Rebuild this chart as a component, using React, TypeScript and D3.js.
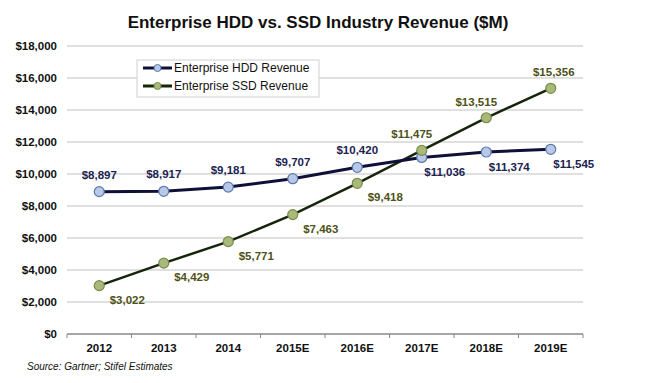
import React from "react";
import * as d3 from "d3";

const categories = ["2012", "2013", "2014", "2015E", "2016E", "2017E", "2018E", "2019E"];
const hddRevenue = [8897, 8917, 9181, 9707, 10420, 11036, 11374, 11545];
const ssdRevenue = [3022, 4429, 5771, 7463, 9418, 11475, 13515, 15356];
const hddLabelPos = ["above", "above", "above", "above", "above", "below", "below", "below"];
const ssdLabelPos = ["below", "below", "below", "below", "below", "above", "above", "above"];
const yTicks = [0, 2000, 4000, 6000, 8000, 10000, 12000, 14000, 16000, 18000];

const W = 648;
const H = 383;
const left = 67;
const right = 583;
const top = 46;
const bottom = 334;

const fmt = (v: number) => "$" + d3.format(",")(v);

export default function App() {
  const x = d3.scaleBand<string>().domain(categories).range([left, right]);
  const y = d3.scaleLinear().domain([0, 18000]).range([bottom, top]);
  const cx = (c: string) => (x(c) as number) + x.bandwidth() / 2;
  const line = d3
    .line<number>()
    .x((_, i) => cx(categories[i]))
    .y((d) => y(d));

  const font = "'Liberation Sans', Arial, sans-serif";
  const hddLine = "#0f1038";
  const hddFill = "#b8c8e6";
  const hddStroke = "#5a78b0";
  const hddText = "#1c2350";
  const ssdLine = "#15250a";
  const ssdFill = "#a8b97a";
  const ssdStroke = "#788c48";
  const ssdText = "#4f5218";

  return (
    <svg width={W} height={H} style={{ position: "absolute", left: 0, top: 0, background: "#fff" }} fontFamily={font}>
      <rect x={0} y={0} width={W} height={H} fill="#fff" />
      <text x={318} y={28} textAnchor="middle" fontSize={17} fontWeight="bold" fill="#111">
        Enterprise HDD vs. SSD Industry Revenue ($M)
      </text>
      {yTicks.map((t) => (
        <g key={t}>
          {t > 0 && <line x1={left} x2={right} y1={y(t)} y2={y(t)} stroke="#d6d6d6" strokeWidth={1.5} />}
          <text x={57} y={y(t) + 4} textAnchor="end" fontSize={11.5} fontWeight="bold" fill="#111">
            {fmt(t)}
          </text>
        </g>
      ))}
      <line x1={left} x2={right} y1={bottom} y2={bottom} stroke="#888" strokeWidth={1.5} />
      {[...categories.map((c) => x(c) as number), right].map((px, i) => (
        <line key={i} x1={px} x2={px} y1={bottom} y2={bottom + 4} stroke="#888" strokeWidth={1} />
      ))}
      {categories.map((c) => (
        <text key={c} x={cx(c)} y={352} textAnchor="middle" fontSize={11.5} fontWeight="bold" fill="#111">
          {c}
        </text>
      ))}
      <text x={27} y={370} fontSize={10} fontStyle="italic" fill="#111">
        Source: Gartner; Stifel Estimates
      </text>

      <path d={line(ssdRevenue) || ""} fill="none" stroke={ssdLine} strokeWidth={2.5} />
      <path d={line(hddRevenue) || ""} fill="none" stroke={hddLine} strokeWidth={3} />
      {hddRevenue.map((v, i) => (
        <circle key={"h" + i} cx={cx(categories[i])} cy={y(v)} r={5} fill={hddFill} stroke={hddStroke} strokeWidth={1.2} />
      ))}
      {ssdRevenue.map((v, i) => (
        <circle key={"s" + i} cx={cx(categories[i])} cy={y(v)} r={5} fill={ssdFill} stroke={ssdStroke} strokeWidth={1.2} />
      ))}
      {hddRevenue.map((v, i) => {
        const above = hddLabelPos[i] === "above";
        return (
          <text
            key={"hl" + i}
            x={cx(categories[i]) + (above ? 0 : 23)}
            y={y(v) + (above ? -13 : 19)}
            textAnchor="middle"
            fontSize={11.5}
            fontWeight="bold"
            fill={hddText}
          >
            {fmt(v)}
          </text>
        );
      })}
      {ssdRevenue.map((v, i) => {
        const above = ssdLabelPos[i] === "above";
        return (
          <text
            key={"sl" + i}
            x={cx(categories[i]) + (above ? (i === 7 ? 3 : -10) : 28)}
            y={y(v) + (above ? -12 : 18)}
            textAnchor="middle"
            fontSize={11.5}
            fontWeight="bold"
            fill={ssdText}
          >
            {fmt(v)}
          </text>
        );
      })}

      <rect x={137} y={60} width={182} height={37} fill="#fff" stroke="#d0d0d0" strokeWidth={1} />
      <line x1={143} x2={172} y1={68} y2={68} stroke={hddLine} strokeWidth={3} />
      <circle cx={157.5} cy={68} r={3.5} fill={hddFill} stroke={hddStroke} strokeWidth={1} />
      <text x={174} y={72} fontSize={12} fill="#111">Enterprise HDD Revenue</text>
      <line x1={143} x2={172} y1={86} y2={86} stroke={ssdLine} strokeWidth={3} />
      <circle cx={157.5} cy={86} r={3.5} fill={ssdFill} stroke={ssdStroke} strokeWidth={1} />
      <text x={174} y={90} fontSize={12} fill="#111">Enterprise SSD Revenue</text>
    </svg>
  );
}
